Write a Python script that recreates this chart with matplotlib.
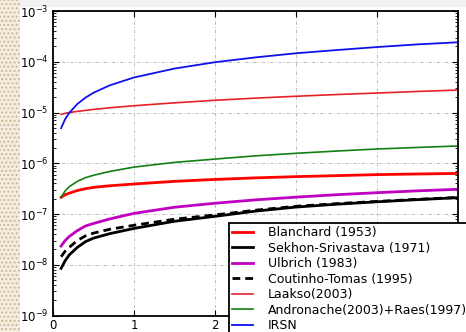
import matplotlib
matplotlib.use("Agg")
import matplotlib.pyplot as plt
from matplotlib.patches import Rectangle

# diameter grid (x) and the parameterisations evaluated on it
x = [0.1, 0.15, 0.2, 0.3, 0.4, 0.5, 0.7, 1.0, 1.5, 2.0, 2.5, 3.0, 3.5, 4.0, 4.5, 5.0]

blanchard = [2.13e-7, 2.4e-7, 2.57e-7, 2.9e-7, 3.15e-7, 3.35e-7, 3.6e-7, 3.9e-7,
             4.4e-7, 4.8e-7, 5.15e-7, 5.45e-7, 5.7e-7, 5.97e-7, 6.15e-7, 6.3e-7]
sekhon = [8.5e-9, 1.2e-8, 1.56e-8, 2.2e-8, 2.85e-8, 3.35e-8, 4.1e-8, 5.2e-8,
          7.2e-8, 9.0e-8, 1.14e-7, 1.37e-7, 1.56e-7, 1.74e-7, 1.92e-7, 2.1e-7]
ulbrich = [2.34e-8, 3.0e-8, 3.6e-8, 4.7e-8, 5.8e-8, 6.5e-8, 8.0e-8, 1.03e-7,
           1.36e-7, 1.63e-7, 1.9e-7, 2.15e-7, 2.4e-7, 2.63e-7, 2.86e-7, 3.07e-7]
coutinho = [1.44e-8, 1.85e-8, 2.2e-8, 3.0e-8, 3.7e-8, 4.2e-8, 5.0e-8, 6.0e-8,
            7.9e-8, 9.6e-8, 1.19e-7, 1.42e-7, 1.6e-7, 1.77e-7, 1.95e-7, 2.12e-7]
laakso = [9.2e-6, 9.6e-6, 1.0e-5, 1.05e-5, 1.1e-5, 1.15e-5, 1.24e-5, 1.36e-5,
          1.55e-5, 1.74e-5, 1.92e-5, 2.09e-5, 2.26e-5, 2.42e-5, 2.6e-5, 2.77e-5]
andronache = [2.13e-7, 2.85e-7, 3.45e-7, 4.4e-7, 5.2e-7, 5.8e-7, 6.9e-7, 8.4e-7,
              1.04e-6, 1.21e-6, 1.4e-6, 1.57e-6, 1.74e-6, 1.91e-6, 2.05e-6, 2.19e-6]
irsn = [4.9e-6, 7.4e-6, 9.8e-6, 1.47e-5, 1.96e-5, 2.45e-5, 3.43e-5, 4.9e-5,
        7.35e-5, 9.8e-5, 1.22e-4, 1.47e-4, 1.7e-4, 1.95e-4, 2.2e-4, 2.42e-4]

fig = plt.figure(figsize=(4.66, 3.32), dpi=100)
fig.patch.set_facecolor("white")

# dotted strip on the left edge and pale band at the top
fig.patches.append(Rectangle((0, 0), 20 / 466, 1, transform=fig.transFigure,
                             facecolor="#f4eee2", edgecolor="#cdb994",
                             hatch="....", linewidth=0, zorder=-5))
fig.patches.append(Rectangle((20 / 466, 1 - 7 / 332), 1, 7 / 332,
                             transform=fig.transFigure, facecolor="#f1f1f1",
                             edgecolor="none", zorder=-5))

ax = fig.add_axes([53 / 466, 16.5 / 332, 405.3 / 466, 304.5 / 332])

ax.plot(x, blanchard, color="red", lw=2, label="Blanchard (1953)")
ax.plot(x, sekhon, color="black", lw=2, label="Sekhon-Srivastava (1971)")
ax.plot(x, ulbrich, color="#c000c0", lw=2, label="Ulbrich (1983)")
ax.plot(x, coutinho, color="black", lw=2, dashes=(2.8, 1.8),
        label="Coutinho-Tomas (1995)")
ax.plot(x, laakso, color="#e8202a", lw=1.2, label="Laakso(2003)")
ax.plot(x, andronache, color="#108010", lw=1.2,
        label="Andronache(2003)+Raes(1997)")
ax.plot(x, irsn, color="#1010ee", lw=1.3, label="IRSN")

ax.set_yscale("log")
ax.set_xlim(0, 5)
ax.set_ylim(1e-9, 1e-3)
ax.set_xticks([0, 1, 2, 3, 4, 5])

ax.grid(True, which="major", color="#b4b4b4", lw=0.6, linestyle=(0, (4, 2.5, 1, 2.5)))
ax.tick_params(which="both", direction="in", top=True, right=True, labelsize=8.5)
ax.tick_params(which="major", length=4, width=0.8)
ax.tick_params(which="minor", length=2, width=0.6)
ax.tick_params(axis="x", pad=2.5)
ax.tick_params(axis="y", pad=3)
for s in ax.spines.values():
    s.set_linewidth(1.3)

leg = ax.legend(loc="upper left", bbox_to_anchor=(229 / 466, 1 - 223 / 332),
                bbox_transform=fig.transFigure, borderaxespad=0, fontsize=9,
                labelspacing=0.2, handlelength=1.7, handletextpad=1.15,
                borderpad=0.25, fancybox=False, framealpha=1)
leg.get_frame().set_edgecolor("black")
leg.get_frame().set_linewidth(1.3)

fig.savefig("out.png", dpi=100)
